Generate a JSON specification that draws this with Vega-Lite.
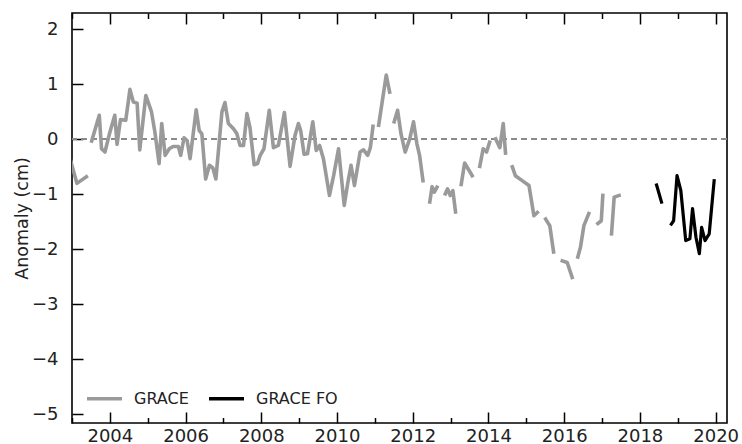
{
  "$schema": "https://vega.github.io/schema/vega-lite/v6.json",
  "autosize": "none",
  "width": 655,
  "height": 410,
  "padding": {"left": 72, "top": 13, "right": 15, "bottom": 21},
  "background": "white",
  "config": {
    "view": {"stroke": "#000", "strokeWidth": 1.6},
    "font": "DejaVu Sans",
    "axis": {"grid": false, "domain": false, "tickColor": "#000", "tickWidth": 1.5, "labelColor": "#222", "labelFont": "DejaVu Sans", "labelFontSize": 18, "titleFont": "DejaVu Sans"}
  },
  "data": {"values": [
    {"t": 2002.97, "v": -0.40, "s": "GRACE", "g": 1},
    {"t": 2003.13, "v": -0.80, "s": "GRACE", "g": 1},
    {"t": 2003.38, "v": -0.68, "s": "GRACE", "g": 1},
    {"t": 2003.52, "v": -0.03, "s": "GRACE", "g": 2},
    {"t": 2003.72, "v": 0.44, "s": "GRACE", "g": 2},
    {"t": 2003.78, "v": -0.17, "s": "GRACE", "g": 2},
    {"t": 2003.87, "v": -0.23, "s": "GRACE", "g": 2},
    {"t": 2004.00, "v": 0.13, "s": "GRACE", "g": 2},
    {"t": 2004.13, "v": 0.44, "s": "GRACE", "g": 2},
    {"t": 2004.19, "v": -0.09, "s": "GRACE", "g": 2},
    {"t": 2004.28, "v": 0.36, "s": "GRACE", "g": 2},
    {"t": 2004.42, "v": 0.35, "s": "GRACE", "g": 2},
    {"t": 2004.53, "v": 0.91, "s": "GRACE", "g": 2},
    {"t": 2004.62, "v": 0.68, "s": "GRACE", "g": 2},
    {"t": 2004.72, "v": 0.66, "s": "GRACE", "g": 2},
    {"t": 2004.79, "v": -0.19, "s": "GRACE", "g": 2},
    {"t": 2004.95, "v": 0.80, "s": "GRACE", "g": 2},
    {"t": 2005.10, "v": 0.50, "s": "GRACE", "g": 2},
    {"t": 2005.19, "v": 0.13, "s": "GRACE", "g": 2},
    {"t": 2005.30, "v": -0.44, "s": "GRACE", "g": 2},
    {"t": 2005.37, "v": 0.29, "s": "GRACE", "g": 2},
    {"t": 2005.46, "v": -0.29, "s": "GRACE", "g": 2},
    {"t": 2005.57, "v": -0.17, "s": "GRACE", "g": 2},
    {"t": 2005.67, "v": -0.13, "s": "GRACE", "g": 2},
    {"t": 2005.81, "v": -0.13, "s": "GRACE", "g": 2},
    {"t": 2005.87, "v": -0.29, "s": "GRACE", "g": 2},
    {"t": 2005.96, "v": 0.03, "s": "GRACE", "g": 2},
    {"t": 2006.04, "v": -0.02, "s": "GRACE", "g": 2},
    {"t": 2006.12, "v": -0.35, "s": "GRACE", "g": 2},
    {"t": 2006.28, "v": 0.54, "s": "GRACE", "g": 2},
    {"t": 2006.36, "v": 0.16, "s": "GRACE", "g": 2},
    {"t": 2006.43, "v": 0.10, "s": "GRACE", "g": 2},
    {"t": 2006.53, "v": -0.72, "s": "GRACE", "g": 2},
    {"t": 2006.63, "v": -0.47, "s": "GRACE", "g": 2},
    {"t": 2006.72, "v": -0.52, "s": "GRACE", "g": 2},
    {"t": 2006.80, "v": -0.72, "s": "GRACE", "g": 2},
    {"t": 2006.96, "v": 0.50, "s": "GRACE", "g": 2},
    {"t": 2007.04, "v": 0.67, "s": "GRACE", "g": 2},
    {"t": 2007.13, "v": 0.29, "s": "GRACE", "g": 2},
    {"t": 2007.26, "v": 0.20, "s": "GRACE", "g": 2},
    {"t": 2007.35, "v": 0.11, "s": "GRACE", "g": 2},
    {"t": 2007.44, "v": -0.11, "s": "GRACE", "g": 2},
    {"t": 2007.53, "v": -0.11, "s": "GRACE", "g": 2},
    {"t": 2007.62, "v": 0.47, "s": "GRACE", "g": 2},
    {"t": 2007.70, "v": 0.22, "s": "GRACE", "g": 2},
    {"t": 2007.81, "v": -0.46, "s": "GRACE", "g": 2},
    {"t": 2007.90, "v": -0.44, "s": "GRACE", "g": 2},
    {"t": 2007.97, "v": -0.29, "s": "GRACE", "g": 2},
    {"t": 2008.07, "v": -0.17, "s": "GRACE", "g": 2},
    {"t": 2008.21, "v": 0.53, "s": "GRACE", "g": 2},
    {"t": 2008.32, "v": -0.15, "s": "GRACE", "g": 2},
    {"t": 2008.45, "v": -0.11, "s": "GRACE", "g": 2},
    {"t": 2008.61, "v": 0.49, "s": "GRACE", "g": 2},
    {"t": 2008.76, "v": -0.49, "s": "GRACE", "g": 2},
    {"t": 2008.89, "v": 0.07, "s": "GRACE", "g": 2},
    {"t": 2008.98, "v": 0.29, "s": "GRACE", "g": 2},
    {"t": 2009.04, "v": 0.16, "s": "GRACE", "g": 2},
    {"t": 2009.13, "v": -0.27, "s": "GRACE", "g": 2},
    {"t": 2009.22, "v": -0.26, "s": "GRACE", "g": 2},
    {"t": 2009.36, "v": 0.32, "s": "GRACE", "g": 2},
    {"t": 2009.45, "v": -0.20, "s": "GRACE", "g": 2},
    {"t": 2009.54, "v": -0.11, "s": "GRACE", "g": 2},
    {"t": 2009.64, "v": -0.35, "s": "GRACE", "g": 2},
    {"t": 2009.80, "v": -1.02, "s": "GRACE", "g": 2},
    {"t": 2009.91, "v": -0.66, "s": "GRACE", "g": 2},
    {"t": 2010.04, "v": -0.17, "s": "GRACE", "g": 2},
    {"t": 2010.19, "v": -1.20, "s": "GRACE", "g": 2},
    {"t": 2010.28, "v": -0.81, "s": "GRACE", "g": 2},
    {"t": 2010.37, "v": -0.47, "s": "GRACE", "g": 2},
    {"t": 2010.46, "v": -0.84, "s": "GRACE", "g": 2},
    {"t": 2010.61, "v": -0.23, "s": "GRACE", "g": 2},
    {"t": 2010.70, "v": -0.19, "s": "GRACE", "g": 2},
    {"t": 2010.81, "v": -0.29, "s": "GRACE", "g": 2},
    {"t": 2010.88, "v": -0.15, "s": "GRACE", "g": 2},
    {"t": 2010.95, "v": 0.24, "s": "GRACE", "g": 2},
    {"t": 2011.10, "v": 0.26, "s": "GRACE", "g": 3},
    {"t": 2011.30, "v": 1.17, "s": "GRACE", "g": 3},
    {"t": 2011.39, "v": 0.86, "s": "GRACE", "g": 3},
    {"t": 2011.51, "v": 0.32, "s": "GRACE", "g": 4},
    {"t": 2011.60, "v": 0.53, "s": "GRACE", "g": 4},
    {"t": 2011.69, "v": 0.10, "s": "GRACE", "g": 4},
    {"t": 2011.80, "v": -0.23, "s": "GRACE", "g": 4},
    {"t": 2011.92, "v": 0.01, "s": "GRACE", "g": 4},
    {"t": 2012.02, "v": 0.32, "s": "GRACE", "g": 4},
    {"t": 2012.11, "v": -0.08, "s": "GRACE", "g": 4},
    {"t": 2012.18, "v": -0.29, "s": "GRACE", "g": 4},
    {"t": 2012.27, "v": -0.75, "s": "GRACE", "g": 4},
    {"t": 2012.45, "v": -1.14, "s": "GRACE", "g": 5},
    {"t": 2012.51, "v": -0.86, "s": "GRACE", "g": 5},
    {"t": 2012.57, "v": -0.96, "s": "GRACE", "g": 5},
    {"t": 2012.64, "v": -0.87, "s": "GRACE", "g": 5},
    {"t": 2012.86, "v": -0.99, "s": "GRACE", "g": 6},
    {"t": 2012.92, "v": -0.90, "s": "GRACE", "g": 6},
    {"t": 2012.99, "v": -1.02, "s": "GRACE", "g": 6},
    {"t": 2013.06, "v": -0.93, "s": "GRACE", "g": 6},
    {"t": 2013.13, "v": -1.32, "s": "GRACE", "g": 6},
    {"t": 2013.28, "v": -0.82, "s": "GRACE", "g": 7},
    {"t": 2013.37, "v": -0.43, "s": "GRACE", "g": 7},
    {"t": 2013.57, "v": -0.66, "s": "GRACE", "g": 7},
    {"t": 2013.77, "v": -0.49, "s": "GRACE", "g": 8},
    {"t": 2013.86, "v": -0.17, "s": "GRACE", "g": 8},
    {"t": 2013.95, "v": -0.23, "s": "GRACE", "g": 8},
    {"t": 2014.03, "v": -0.05, "s": "GRACE", "g": 8},
    {"t": 2014.19, "v": 0.01, "s": "GRACE", "g": 9},
    {"t": 2014.30, "v": -0.15, "s": "GRACE", "g": 9},
    {"t": 2014.39, "v": 0.29, "s": "GRACE", "g": 9},
    {"t": 2014.45, "v": -0.25, "s": "GRACE", "g": 9},
    {"t": 2014.63, "v": -0.50, "s": "GRACE", "g": 10},
    {"t": 2014.71, "v": -0.66, "s": "GRACE", "g": 10},
    {"t": 2014.89, "v": -0.75, "s": "GRACE", "g": 10},
    {"t": 2015.07, "v": -0.84, "s": "GRACE", "g": 10},
    {"t": 2015.20, "v": -1.39, "s": "GRACE", "g": 10},
    {"t": 2015.29, "v": -1.33, "s": "GRACE", "g": 10},
    {"t": 2015.51, "v": -1.45, "s": "GRACE", "g": 11},
    {"t": 2015.62, "v": -1.57, "s": "GRACE", "g": 11},
    {"t": 2015.72, "v": -2.05, "s": "GRACE", "g": 11},
    {"t": 2015.95, "v": -2.21, "s": "GRACE", "g": 12},
    {"t": 2016.08, "v": -2.24, "s": "GRACE", "g": 12},
    {"t": 2016.21, "v": -2.51, "s": "GRACE", "g": 12},
    {"t": 2016.36, "v": -2.14, "s": "GRACE", "g": 13},
    {"t": 2016.43, "v": -1.96, "s": "GRACE", "g": 13},
    {"t": 2016.52, "v": -1.57, "s": "GRACE", "g": 13},
    {"t": 2016.65, "v": -1.35, "s": "GRACE", "g": 13},
    {"t": 2016.89, "v": -1.53, "s": "GRACE", "g": 14},
    {"t": 2016.98, "v": -1.48, "s": "GRACE", "g": 14},
    {"t": 2017.02, "v": -1.02, "s": "GRACE", "g": 14},
    {"t": 2017.25, "v": -1.72, "s": "GRACE", "g": 15},
    {"t": 2017.32, "v": -1.05, "s": "GRACE", "g": 15},
    {"t": 2017.45, "v": -1.02, "s": "GRACE", "g": 15},
    {"t": 2018.44, "v": -0.83, "s": "GRACE FO", "g": 16},
    {"t": 2018.57, "v": -1.14, "s": "GRACE FO", "g": 16},
    {"t": 2018.83, "v": -1.54, "s": "GRACE FO", "g": 17},
    {"t": 2018.89, "v": -1.48, "s": "GRACE FO", "g": 17},
    {"t": 2018.98, "v": -0.66, "s": "GRACE FO", "g": 17},
    {"t": 2019.08, "v": -0.93, "s": "GRACE FO", "g": 17},
    {"t": 2019.21, "v": -1.84, "s": "GRACE FO", "g": 17},
    {"t": 2019.32, "v": -1.81, "s": "GRACE FO", "g": 17},
    {"t": 2019.39, "v": -1.26, "s": "GRACE FO", "g": 17},
    {"t": 2019.48, "v": -1.78, "s": "GRACE FO", "g": 17},
    {"t": 2019.57, "v": -2.08, "s": "GRACE FO", "g": 17},
    {"t": 2019.63, "v": -1.60, "s": "GRACE FO", "g": 17},
    {"t": 2019.72, "v": -1.84, "s": "GRACE FO", "g": 17},
    {"t": 2019.83, "v": -1.72, "s": "GRACE FO", "g": 17},
    {"t": 2019.96, "v": -0.75, "s": "GRACE FO", "g": 17}
  ]},
  "layer": [
    {
      "mark": {"type": "rule", "strokeDash": [6, 4], "color": "#8a8a8a", "strokeWidth": 1.3},
      "encoding": {"y": {"datum": 0, "type": "quantitative"}}
    },
    {
      "transform": [{"filter": "datum.s == 'GRACE'"}],
      "mark": {"type": "line", "strokeWidth": 3.6, "clip": true, "strokeJoin": "round", "strokeCap": "square"},
      "encoding": {
        "x": {"field": "t", "type": "quantitative",
          "scale": {"domain": [2003, 2020.3], "nice": false, "zero": false},
          "axis": {"orient": "bottom", "title": null,
            "values": [2003,2004,2005,2006,2007,2008,2009,2010,2011,2012,2013,2014,2015,2016,2017,2018,2019,2020],
            "tickSize": {"condition": {"test": "datum.value % 2 == 0", "value": -11}, "value": -5.5},
            "labelExpr": "datum.value % 2 == 0 ? datum.label : ''",
            "format": "d", "labelPadding": 15, "labelOverlap": false, "labelFlush": false}},
        "y": {"field": "v", "type": "quantitative",
          "scale": {"domain": [-5.16, 2.3], "nice": false, "zero": false},
          "axis": {"title": "Anomaly (cm)", "values": [-5,-4,-3,-2,-1,0,1,2], "format": "d", "tickSize": -11, "labelPadding": 25,
            "titleFontSize": 17.5, "titleFontWeight": "normal", "titleColor": "#222", "titlePadding": 0}},
        "color": {"field": "s", "type": "nominal",
          "scale": {"domain": ["GRACE", "GRACE FO"], "range": ["#9a9a9a", "#000000"]},
          "legend": {"title": null, "orient": "none", "legendX": 13, "legendY": 366, "direction": "horizontal",
            "symbolType": "stroke", "symbolSize": 1225, "symbolStrokeWidth": 3.5, "labelFontSize": 16, "labelColor": "#222",
            "labelOffset": 10, "columnPadding": 13, "padding": 0}},
        "detail": {"field": "g", "type": "nominal"}
      }
    },
    {
      "transform": [{"filter": "datum.s == 'GRACE FO'"}],
      "mark": {"type": "line", "strokeWidth": 3.2, "clip": true, "strokeJoin": "round", "strokeCap": "square"},
      "encoding": {
        "x": {"field": "t", "type": "quantitative",
          "scale": {"domain": [2003, 2020.3], "nice": false, "zero": false},
          "axis": {"orient": "top", "title": null, "labels": false,
            "values": [2003,2004,2005,2006,2007,2008,2009,2010,2011,2012,2013,2014,2015,2016,2017,2018,2019,2020],
            "tickSize": {"condition": {"test": "datum.value % 2 == 0", "value": -11}, "value": -5.5}}},
        "y": {"field": "v", "type": "quantitative"},
        "color": {"field": "s", "type": "nominal"},
        "detail": {"field": "g", "type": "nominal"}
      }
    }
  ],
  "resolve": {"scale": {"x": "independent"}, "axis": {"x": "independent"}}
}
